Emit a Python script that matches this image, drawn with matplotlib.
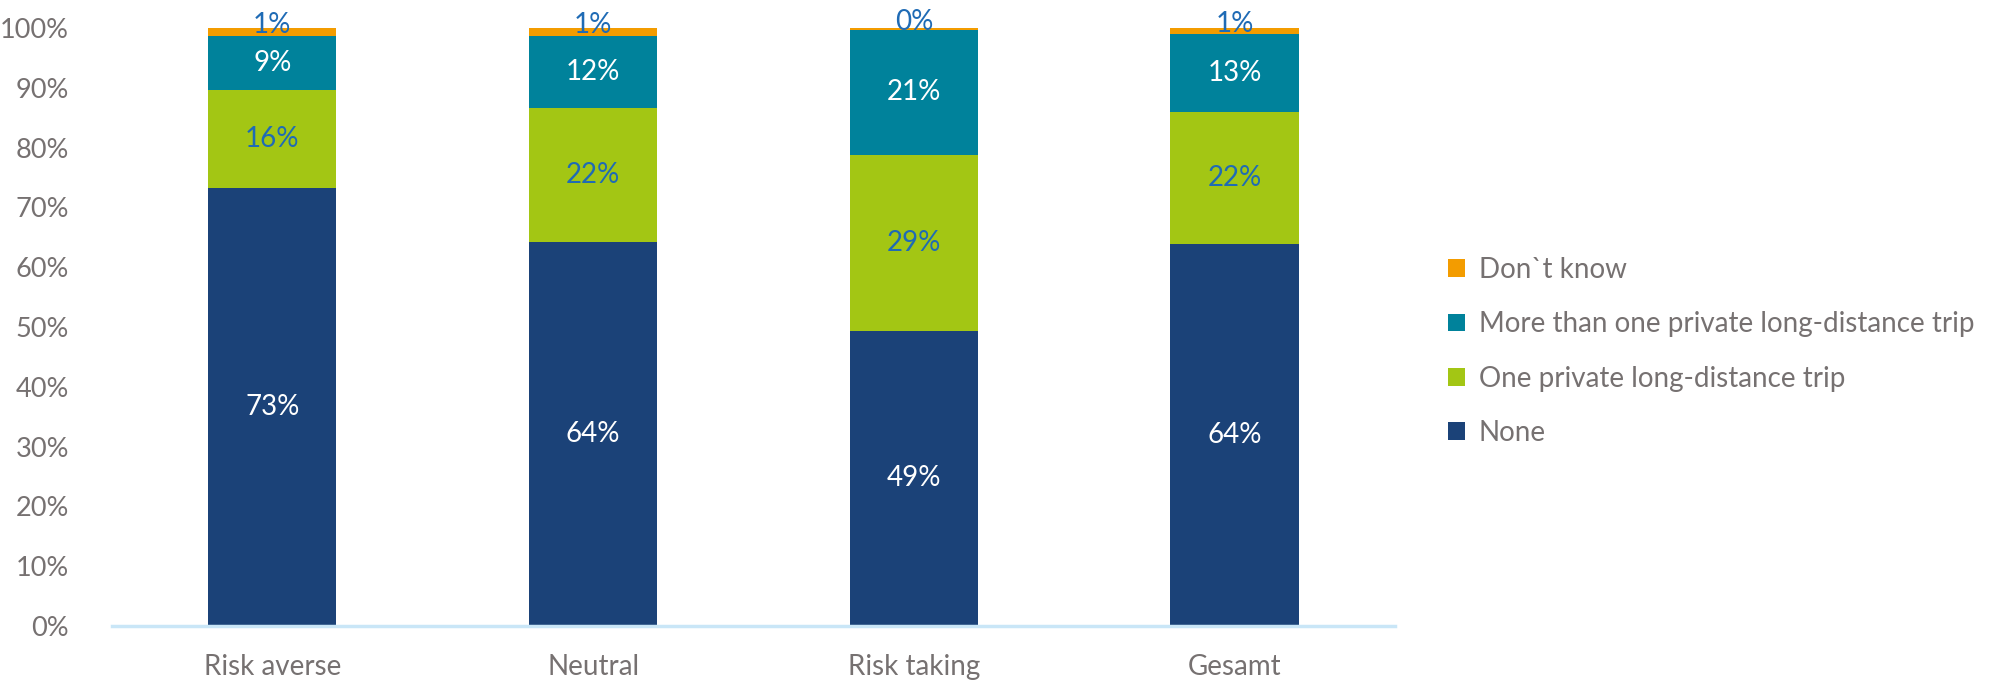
import numpy as np
import matplotlib.pyplot as plt

plt.rcParams['font.family'] = ['Lato', 'DejaVu Sans']

# data (percent)
groups = ['Risk averse', 'Neutral', 'Risk taking', 'Gesamt']
none_ = [73.2, 64.2, 49.4, 63.9]
one_trip = [16.4, 22.4, 29.4, 22.0]
more_trips = [9.1, 12.0, 20.8, 13.0]
dont_know = [1.3, 1.4, 0.4, 1.1]

series = [
    ('None', none_, '#1B4278', 'white'),
    ('One private long-distance trip', one_trip, '#A3C614', '#1F6BB5'),
    ('More than one private long-distance trip', more_trips, '#00829B', 'white'),
    ('Don`t know', dont_know, '#F39C00', '#1F6BB5'),
]

fig = plt.figure(figsize=(20.10, 6.82), dpi=100)
ax = fig.add_axes([0.0557, 0.0821, 0.6383, 0.877])

x = np.arange(len(groups))
bottom = np.zeros(len(groups))
handles = []
for i, (name, vals, col, tcol) in enumerate(series):
    vals = np.array(vals) / 100
    b = ax.bar(x, vals, 0.4, bottom=bottom, color=col, label=name)
    handles.append(b)
    # top segment labels sit a bit above the thin orange strip
    lift = 0.012 if i == len(series) - 1 else 0
    for xi, v, bt in zip(x, vals, bottom):
        ax.text(xi, bt + v / 2 + lift, '{:.0f}%'.format(v * 100), ha='center',
                va='center', color=tcol, fontsize=20)
    bottom += vals

ax.set_xlim(-0.5, len(groups) - 0.5)
ax.set_ylim(0, 1.0)
ax.set_yticks(np.arange(0, 1.01, 0.1))
ax.set_yticklabels(['{:.0f}%'.format(t * 100) for t in np.arange(0, 1.01, 0.1)])
ax.set_xticks(x)
ax.set_xticklabels(groups)
ax.tick_params(axis='y', length=0, pad=31, labelsize=19.5, labelcolor='#767171')
ax.tick_params(axis='x', length=0, pad=20, labelsize=20, labelcolor='#767171')
for s in ['top', 'right', 'left']:
    ax.spines[s].set_visible(False)
ax.spines['bottom'].set_color('#C9E6F7')
ax.spines['bottom'].set_linewidth(2.5)

leg = fig.legend(handles[::-1], [h.get_label() for h in handles[::-1]],
                 loc='upper left', bbox_to_anchor=(0.708, 0.66), frameon=False,
                 fontsize=20, handlelength=0.6, handleheight=0.6, handletextpad=0.5,
                 labelspacing=1.02, labelcolor='#767171')

fig.savefig('out.png', dpi=100)
